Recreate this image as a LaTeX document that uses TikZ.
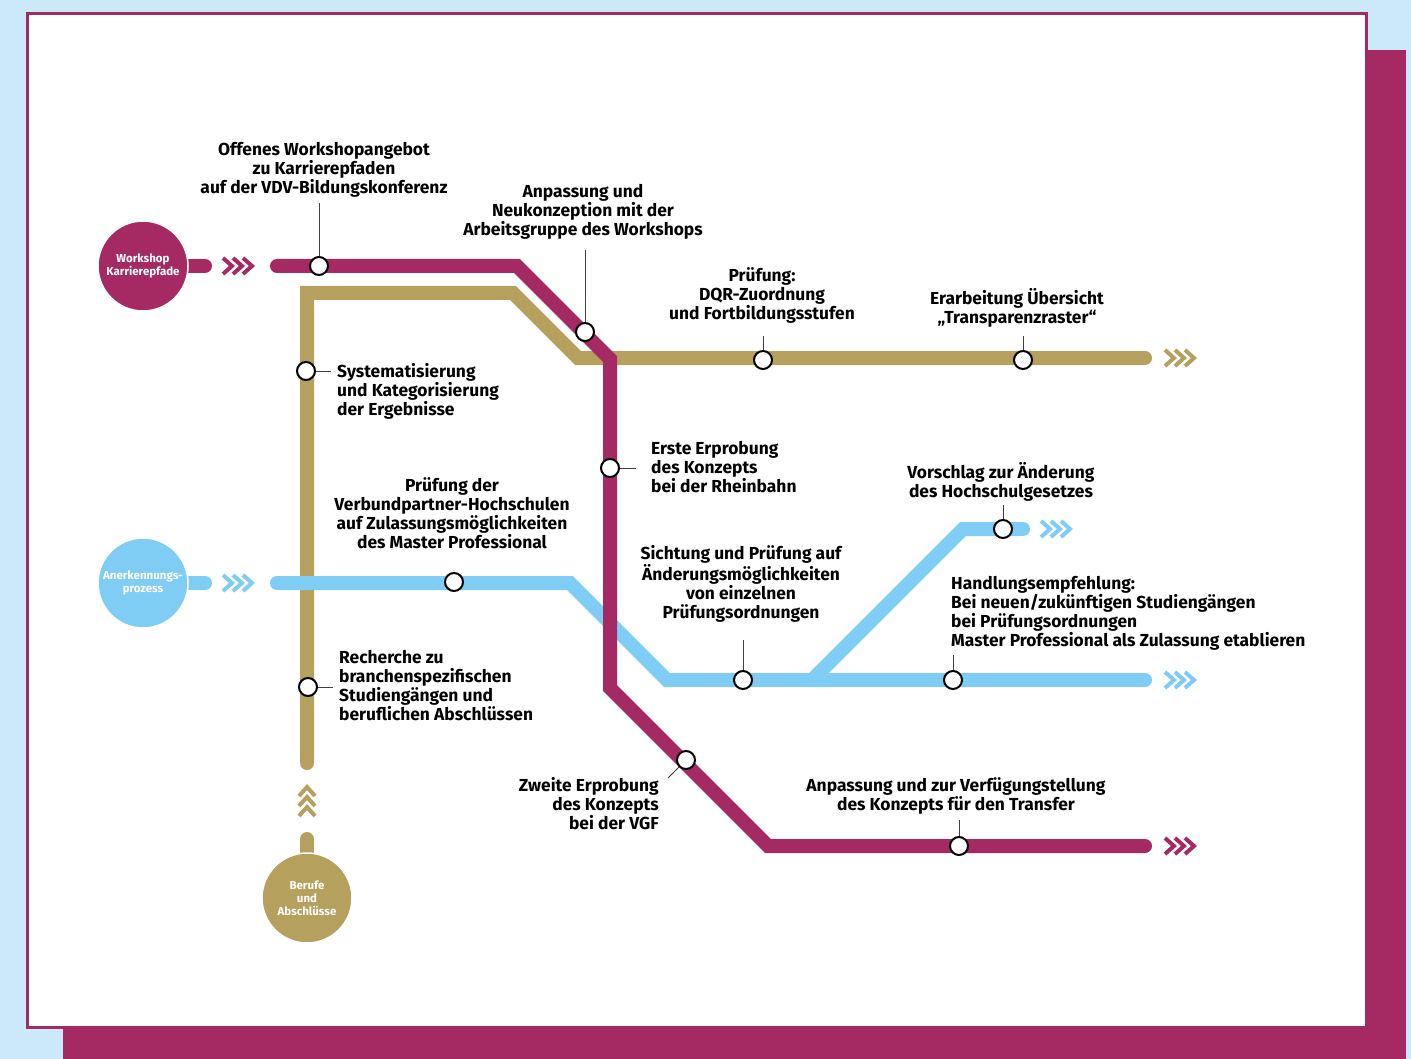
\documentclass[tikz,border=0pt]{standalone}
\usepackage{fontspec}
\setmainfont{Fira Sans}
\definecolor{skyback}{HTML}{CCE9F9}
\definecolor{berry}{HTML}{A52A63}
\definecolor{sand}{HTML}{B6A05E}
\definecolor{sky}{HTML}{7FCDF5}
\newcommand{\lblfont}{\fontsize{17.4}{19}\selectfont\bfseries}
\newcommand{\hubfont}{\fontsize{11.5}{13}\selectfont\bfseries}
\begin{document}
\begin{tikzpicture}[x=1pt,y=-1pt,
  track/.style={line width=14pt,line cap=round,line join=miter},
  stop/.style={circle,draw=black,fill=white,line width=2pt,minimum size=18pt,inner sep=0pt},
  hub/.style={circle,draw=white,line width=1.5pt,minimum size=90pt,inner sep=0pt,align=center,text=white,font=\hubfont},
  tick/.style={draw=black!75,line width=0.8pt},
  lbl/.style={font=\lblfont,inner sep=0pt,align=center},
  chev/.style={line width=4pt,line join=miter,line cap=butt}]
\useasboundingbox (0,0) rectangle (1411,1059);
% page background, offset card and framed sheet
\fill[skyback] (0,0) rectangle (1411,1059);
\fill[berry] (63,50) rectangle (1406,1059);
\fill[white] (26,12) rectangle (1368,1029);
\draw[berry,line width=3pt] (27.5,13.5) rectangle (1366.5,1027.5);

% ---- gold line ----
\draw[track,sand] (307,763) -- (307,293) -- (513,293) -- (578,358) -- (1145,358);
\draw[track,sand] (307,839) -- (307,870);
\foreach \t in {787,797,807}
  \draw[chev,sand] (299,\t+9) -- (307,\t) -- (315,\t+9);
\foreach \t in {1174,1184,1194}
  \draw[chev,sand] (\t-9,350) -- (\t,358) -- (\t-9,366);

% ---- blue line ----
\draw[track,sky] (180,583) -- (205,583);
\draw[track,sky] (277,583) -- (570,583) -- (667,680) -- (1145,680);
\draw[track,sky,line cap=butt] (812,680) -- (963,529) -- (1018,529);
\draw[line width=14pt,sky,line cap=round] (1018,529) -- (1023,529);
\foreach \t in {232,242,252}
  \draw[chev,sky] (\t-9,575) -- (\t,583) -- (\t-9,591);
\foreach \t in {1050,1060,1070}
  \draw[chev,sky] (\t-9,521) -- (\t,529) -- (\t-9,537);
\foreach \t in {1174,1184,1194}
  \draw[chev,sky] (\t-9,672) -- (\t,680) -- (\t-9,688);

% ---- berry line ----
\draw[track,berry] (180,266) -- (205,266);
\draw[track,berry] (277,266) -- (517,266) -- (610,359) -- (610,688) -- (768,846) -- (1145,846);
\foreach \t in {232,242,252}
  \draw[chev,berry] (\t-9,258) -- (\t,266) -- (\t-9,274);
\foreach \t in {1174,1184,1194}
  \draw[chev,berry] (\t-9,838) -- (\t,846) -- (\t-9,854);

% ---- start hubs ----
\node[hub,fill=berry] (hw) at (143,266) {Workshop\\Karrierepfade};
\node[hub,fill=sky] (ha) at (143,583) {Anerkennungs-\\prozess};
\node[hub,fill=sand] (hb) at (307,898) {Berufe\\und\\Abschlüsse};

% ---- stations ----
\node[stop] (s1) at (319,266) {};
\node[stop] (s2) at (585,332) {};
\node[stop] (s3) at (306,371) {};
\node[stop] (s4) at (763,360) {};
\node[stop] (s5) at (1023,360) {};
\node[stop] (s6) at (610,468) {};
\node[stop] (s7) at (454,582) {};
\node[stop] (s8) at (308,687) {};
\node[stop] (s9) at (743,680) {};
\node[stop] (s10) at (953,680) {};
\node[stop] (s11) at (1003,529) {};
\node[stop] (s12) at (686,760) {};
\node[stop] (s13) at (959,846) {};

% ---- leader ends ----
\coordinate (c1) at (319,203);
\coordinate (c2) at (585,250);
\coordinate (c3) at (331,371);
\coordinate (c4) at (763,336);
\coordinate (c5) at (1023,336);
\coordinate (c6) at (636,468);
\coordinate (c8) at (333,687);
\coordinate (c9) at (743,640);
\coordinate (c10) at (953,655);
\coordinate (c11) at (1003,505);
\coordinate (c12) at (668,778);
\coordinate (c13) at (959,820);
\draw[tick] (s1) -- (c1);
\draw[tick] (s2) -- (c2);
\draw[tick] (s3) -- (c3);
\draw[tick] (s4) -- (c4);
\draw[tick] (s5) -- (c5);
\draw[tick] (s6) -- (c6);
\draw[tick] (s8) -- (c8);
\draw[tick] (s9) -- (c9);
\draw[tick] (s10) -- (c10);
\draw[tick] (s11) -- (c11);
\draw[tick] (s12) -- (c12);
\draw[tick] (s13) -- (c13);

% ---- labels ----
\node[lbl,anchor=north] (l1) at (324,142) {Offenes Workshopangebot\\zu Karrierepfaden\\auf der VDV-Bildungskonferenz};
\node[lbl,anchor=north] (l2) at (583,184) {Anpassung und\\Neukonzeption mit der\\Arbeitsgruppe des Workshops};
\node[lbl,anchor=north] (l4) at (762,267) {Prüfung:\\DQR-Zuordnung\\und Fortbildungsstufen};
\node[lbl,anchor=north] (l5) at (1017,288) {Erarbeitung Übersicht\\„Transparenzraster“};
\node[lbl,anchor=north west,align=left] (l3) at (337,363) {Systematisierung\\und Kategorisierung\\der Ergebnisse};
\node[lbl,anchor=north west,align=left] (l6) at (651,441) {Erste Erprobung\\des Konzepts\\bei der Rheinbahn};
\node[lbl,anchor=north] (l11) at (1001,462) {Vorschlag zur Änderung\\des Hochschulgesetzes};
\node[lbl,anchor=north] (l7) at (452,477) {Prüfung der\\Verbundpartner-Hochschulen\\auf Zulassungsmöglichkeiten\\des Master Professional};
\node[lbl,anchor=north] (l9) at (741,545) {Sichtung und Prüfung auf\\Änderungsmöglichkeiten\\von einzelnen\\Prüfungsordnungen};
\node[lbl,anchor=north west,align=left] (l10) at (951,576) {Handlungsempfehlung:\\Bei neuen/zukünftigen Studiengängen\\bei Prüfungsordnungen\\Master Professional als Zulassung etablieren};
\node[lbl,anchor=north west,align=left] (l8) at (339,650) {Recherche zu\\branchenspezifischen\\Studiengängen und\\beruflichen Abschlüssen};
\node[lbl,anchor=north east,align=right] (l12) at (659,777) {Zweite Erprobung\\des Konzepts\\bei der VGF};
\node[lbl,anchor=north] (l13) at (956,777) {Anpassung und zur Verfügungstellung\\des Konzepts für den Transfer};
\end{tikzpicture}
\end{document}
